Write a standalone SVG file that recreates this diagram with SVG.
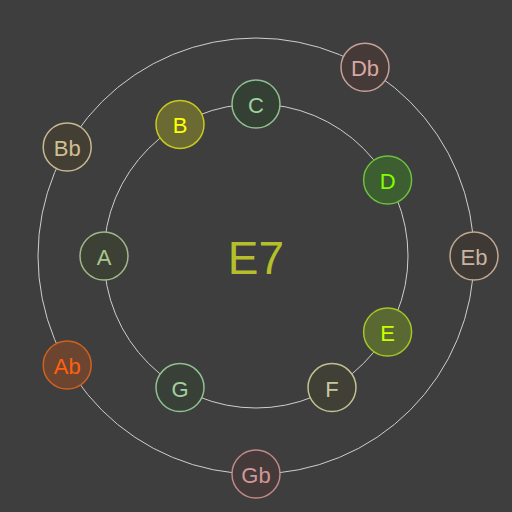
<svg xmlns="http://www.w3.org/2000/svg" width="512" height="512" viewBox="0 0 512 512">
<style>
.ring{fill:none;stroke:#cfcfcf;stroke-width:1}
.n circle{stroke-width:1.5}
.n text{font-family:"Liberation Sans",Arial,sans-serif;font-size:22px;text-anchor:middle}
.title{font-family:"Liberation Sans",Arial,sans-serif;font-size:46px;text-anchor:middle;fill:#b5bf2c}
</style>
<rect width="512" height="512" fill="#3e3e3e"/>
<g id="connectors">
<circle class="ring" cx="256" cy="256" r="152"/>
<circle class="ring" cx="256" cy="256" r="218"/>
</g>
<text class="title" x="256" y="274">E7</text>
<g id="C" class="n"><circle cx="256" cy="104" r="24" fill="#334033" stroke="#8fbf8f"/><text x="256" y="113" fill="#a0d0a0">C</text></g>
<g id="D" class="n"><circle cx="387.6" cy="180" r="24" fill="#3d5e30" stroke="#6cc03a"/><text x="387.6" y="189" fill="#80ff00">D</text></g>
<g id="E" class="n"><circle cx="387.6" cy="332" r="24" fill="#5a6832" stroke="#a4c428"/><text x="387.6" y="341" fill="#c8ff00">E</text></g>
<g id="F" class="n"><circle cx="332" cy="387.6" r="24" fill="#404036" stroke="#c0c090"/><text x="332" y="396.6" fill="#c8c8a0">F</text></g>
<g id="G" class="n"><circle cx="180" cy="387.6" r="24" fill="#384038" stroke="#90c090"/><text x="180" y="396.6" fill="#a0d0a0">G</text></g>
<g id="A" class="n"><circle cx="104" cy="256" r="24" fill="#3d4035" stroke="#a0b888"/><text x="104" y="265" fill="#a8c890">A</text></g>
<g id="B" class="n"><circle cx="180" cy="124.4" r="24" fill="#6b6a32" stroke="#c8c820"/><text x="180" y="133.4" fill="#ffff00">B</text></g>
<g id="Db" class="n"><circle cx="365" cy="67.2" r="24" fill="#453a38" stroke="#c8a098"/><text x="365" y="76.2" fill="#d8a8a0">Db</text></g>
<g id="Eb" class="n"><circle cx="474" cy="256" r="24" fill="#3f3935" stroke="#c0a890"/><text x="474" y="265" fill="#c8b4a0">Eb</text></g>
<g id="Gb" class="n"><circle cx="256" cy="474" r="24" fill="#453a3a" stroke="#c08888"/><text x="256" y="483" fill="#d09898">Gb</text></g>
<g id="Ab" class="n"><circle cx="67.2" cy="365" r="24" fill="#6b4530" stroke="#d06020"/><text x="67.2" y="374" fill="#ff6010">Ab</text></g>
<g id="Bb" class="n"><circle cx="67.2" cy="147" r="24" fill="#433f35" stroke="#c8b890"/><text x="67.2" y="156" fill="#d0c090">Bb</text></g>
</svg>
